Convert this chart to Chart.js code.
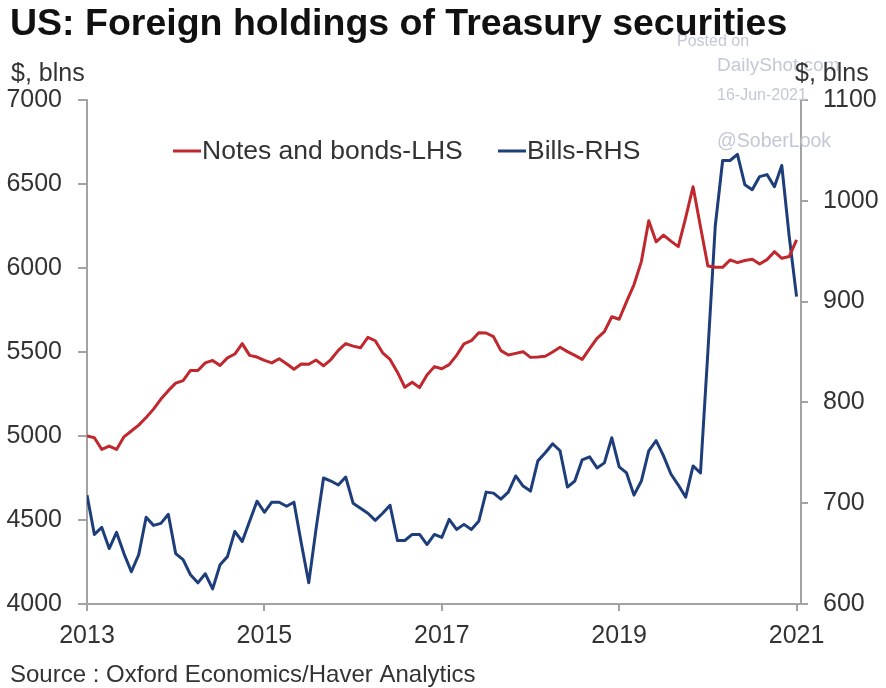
<!DOCTYPE html>
<html>
<head>
<meta charset="utf-8">
<script src="https://cdn.jsdelivr.net/npm/chart.js@4.4.1/dist/chart.umd.min.js"></script>
<style>
  html, body { margin: 0; padding: 0; background: #fff; }
  #wrap { position: relative; width: 886px; height: 688px; }
</style>
</head>
<body>
<div id="wrap"><canvas id="c" width="886" height="688"></canvas></div>
<script>
// Monthly, Jan 2013 .. Jan 2021
const startYear = 2013;
const yearTicks = [0, 24, 48, 72, 96];   // month index of each labelled year

// Notes and bonds, $ blns (left axis)
const notesBonds = [
  5000, 4990, 4920, 4940, 4920, 4995, 5030, 5065, 5110, 5160,
  5220, 5270, 5315, 5330, 5390, 5390, 5435, 5450, 5420, 5465,
  5488, 5550, 5480, 5470, 5450, 5435, 5460, 5430, 5397, 5428,
  5427, 5452, 5418, 5455, 5510, 5550, 5535, 5525, 5587, 5567,
  5495, 5456, 5380, 5290, 5320, 5288, 5363, 5413, 5400, 5425,
  5480, 5548, 5567, 5615, 5613, 5591, 5508, 5482, 5492, 5502,
  5468, 5470, 5475, 5500, 5528, 5502, 5480, 5456, 5520, 5581,
  5621, 5710, 5695, 5800, 5900, 6038, 6281, 6156, 6196, 6160,
  6127, 6300, 6484, 6246, 6012, 6005, 6004, 6048, 6032, 6045,
  6052, 6024, 6050, 6097, 6058, 6068, 6167
];

// Bills, $ blns (right axis)
const bills = [
  708, 669, 676, 655, 671, 650, 632, 649, 686, 678,
  680, 689, 650, 644, 629, 621, 630, 615, 639, 647,
  672, 662, 682, 702, 691, 701, 701, 697, 701, 660,
  621, 675, 725, 722, 718, 726, 700, 695, 690, 683,
  690, 698, 663, 663, 669, 669, 659, 669, 666, 684,
  674, 679, 674, 682, 711, 710, 704, 711, 727, 717,
  712, 742, 750, 759, 752, 716, 722, 743, 746, 735,
  740, 765, 736, 730, 708, 722, 752, 762, 747, 729,
  718, 706, 737, 730, 850, 975, 1040, 1040, 1046, 1016,
  1011, 1024, 1026, 1014, 1035, 965, 905
];

const leftRange = [4000, 7000, 500];
const rightRange = [600, 1100, 100];

const RED = '#c0282e';
const BLUE = '#1d3e7a';
const AXIS = '#a3a3a3';
const TEXT = '#333333';
const MARK = '#c3c8d6';
const FONT = '"Liberation Sans", Arial, Helvetica, sans-serif';

Chart.defaults.font.family = FONT;
Chart.defaults.color = TEXT;

// titles, units, source, watermark and in-plot legend
const decor = {
  id: 'decor',
  beforeDatasetsDraw(chart) {
    const ctx = chart.ctx;
    ctx.save();
    ctx.fillStyle = MARK;
    ctx.textBaseline = 'alphabetic';
    ctx.font = '16px ' + FONT;
    ctx.fillText('Posted on', 677, 46);
    ctx.font = '19px ' + FONT;
    ctx.fillText('DailyShot.com', 717, 71);
    ctx.font = '16px ' + FONT;
    ctx.fillText('16-Jun-2021', 717, 100);
    ctx.font = '19.5px ' + FONT;
    ctx.fillText('@SoberLook', 717, 147);
    ctx.restore();
  },
  afterDraw(chart) {
    const ctx = chart.ctx;
    ctx.save();
    ctx.textBaseline = 'alphabetic';
    ctx.fillStyle = '#111';
    ctx.font = 'bold 37.5px ' + FONT;
    ctx.fillText('US: Foreign holdings of Treasury securities', 10, 35);

    ctx.fillStyle = TEXT;
    ctx.font = '25px ' + FONT;
    ctx.fillText('$, blns', 11, 81);
    ctx.fillText('$, blns', 795, 81);
    ctx.font = '24px ' + FONT;
    ctx.fillText('Source : Oxford Economics/Haver Analytics', 10, 682);

    // legend
    const items = [[173, 0], [498, 1]];
    ctx.font = '26.5px ' + FONT;
    ctx.textBaseline = 'middle';
    items.forEach(function (it) {
      const ds = chart.data.datasets[it[1]];
      ctx.strokeStyle = ds.borderColor;
      ctx.lineWidth = 3;
      ctx.beginPath();
      ctx.moveTo(it[0], 151);
      ctx.lineTo(it[0] + 28, 151);
      ctx.stroke();
      ctx.fillStyle = TEXT;
      ctx.fillText(ds.label, it[0] + 29, 152);
    });
    ctx.restore();
  }
};

function toPoints(arr) {
  return arr.map(function (v, i) { return { x: i, y: v }; });
}

new Chart(document.getElementById('c'), {
  type: 'line',
  data: {
    datasets: [
      { label: 'Notes and bonds-LHS', data: toPoints(notesBonds), borderColor: RED, yAxisID: 'y' },
      { label: 'Bills-RHS', data: toPoints(bills), borderColor: BLUE, yAxisID: 'y1' }
    ]
  },
  options: {
    responsive: false,
    animation: false,
    devicePixelRatio: 1,
    layout: { padding: { top: 100, left: 0, right: 0, bottom: 0 } },
    plugins: { legend: { display: false }, tooltip: { enabled: false } },
    elements: {
      point: { radius: 0 },
      line: { borderWidth: 3, tension: 0, borderJoinStyle: 'round', fill: false }
    },
    scales: {
      x: {
        type: 'linear',
        min: 0,
        max: 96.6,
        afterBuildTicks: function (s) { s.ticks = yearTicks.map(function (v) { return { value: v }; }); },
        afterFit: function (s) { s.height = 84; },
        ticks: {
          autoSkip: false, maxRotation: 0, padding: 10,
          color: TEXT, font: { size: 25 },
          callback: function (v) { return String(startYear + v / 12); }
        },
        grid: { drawOnChartArea: false, tickLength: 7, color: AXIS, lineWidth: 2 },
        border: { color: AXIS, width: 2 }
      },
      y: {
        position: 'left',
        min: leftRange[0], max: leftRange[1],
        afterFit: function (s) { s.width = 87; },
        ticks: {
          stepSize: leftRange[2], padding: 16, color: TEXT, font: { size: 25 },
          callback: function (v) { return String(v); }
        },
        grid: { drawOnChartArea: false, tickLength: 9, color: AXIS, lineWidth: 2 },
        border: { color: AXIS, width: 2 }
      },
      y1: {
        position: 'right',
        min: rightRange[0], max: rightRange[1],
        afterFit: function (s) { s.width = 85; },
        ticks: {
          stepSize: rightRange[2], padding: 15, color: TEXT, font: { size: 25 },
          callback: function (v) { return String(v); }
        },
        grid: { drawOnChartArea: false, tickLength: 7, color: AXIS, lineWidth: 2 },
        border: { color: AXIS, width: 2 }
      }
    }
  },
  plugins: [decor]
});
</script>
</body>
</html>
